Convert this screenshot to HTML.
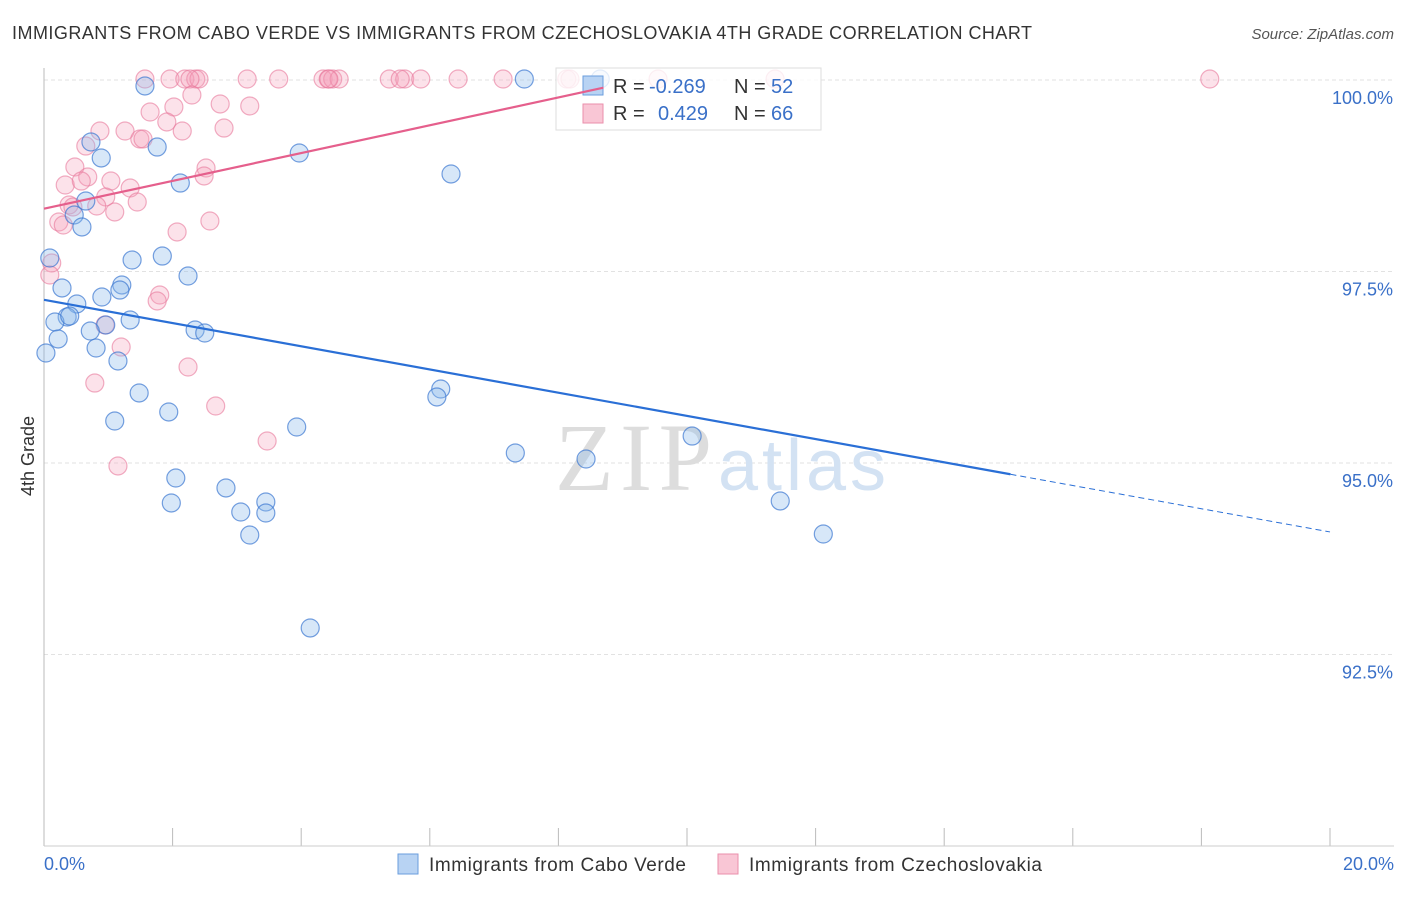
<!DOCTYPE html>
<html><head><meta charset="utf-8"><style>
body{margin:0;background:#fff;font-family:"Liberation Sans",sans-serif;}
</style></head><body>
<svg width="1406" height="892" xmlns="http://www.w3.org/2000/svg" font-family="Liberation Sans, sans-serif">
<text x="12" y="39" font-size="18" fill="#333" textLength="1020">IMMIGRANTS FROM CABO VERDE VS IMMIGRANTS FROM CZECHOSLOVAKIA 4TH GRADE CORRELATION CHART</text>
<text x="1394" y="39" font-size="15" fill="#555" font-style="italic" text-anchor="end">Source: ZipAtlas.com</text>
<g id="grid"></g>
<text x="555" y="490" font-size="96" fill="#ddd" font-family="Liberation Serif, serif" textLength="157">ZIP</text>
<text x="718" y="490" font-size="72" fill="#d3e2f3" textLength="168">atlas</text>
<line x1="44" y1="68" x2="44" y2="846" stroke="#bbb"/>
<line x1="44" y1="846" x2="1394" y2="846" stroke="#ccc"/>
<text transform="translate(34,456) rotate(-90)" font-size="18" fill="#333" text-anchor="middle">4th Grade</text>
<text x="44" y="870" font-size="18" fill="#3a70c8">0.0%</text>
<text x="1394" y="870" font-size="18" fill="#3a70c8" text-anchor="end">20.0%</text>
<g id="pts"></g>
<g>
<rect x="556" y="68" width="265" height="62" fill="#fff" fill-opacity="0.8" stroke="#ddd"/>
<rect x="583" y="76" width="20" height="19" fill="#b8d3f3" stroke="#6a9ede"/>
<rect x="583" y="104" width="20" height="19" fill="#f9c6d5" stroke="#ea8fab"/>
<text x="613" y="93" font-size="20" fill="#333">R = <tspan fill="#3a70c8" x="649">-0.269</tspan><tspan x="734">N = </tspan><tspan fill="#3a70c8" x="771">52</tspan></text>
<text x="613" y="120" font-size="20" fill="#333">R = <tspan fill="#3a70c8" x="658">0.429</tspan><tspan x="734">N = </tspan><tspan fill="#3a70c8" x="771">66</tspan></text>
</g>
<g id="lines"></g>
<g>
<rect x="398" y="854" width="20" height="20" fill="#b8d3f3" stroke="#6a9ede"/>
<text x="429" y="871" font-size="19" fill="#333" textLength="257">Immigrants from Cabo Verde</text>
<rect x="718" y="854" width="20" height="20" fill="#f9c6d5" stroke="#ea8fab"/>
<text x="749" y="871" font-size="19" fill="#333" textLength="293">Immigrants from Czechoslovakia</text>
</g>
</svg>
<script>
const yTicks=[100,97.5,95,92.5];
const yTickLabels=["100.0%","97.5%","95.0%","92.5%"];
const xTicks=[0,2,4,6,8,10,12,14,16,18,20];
const bluePx=[[145,86],[91,142],[157,147],[101,158],[299,153],[451,174],[180,183],[86,201],[74,215],[82,227],[50,258],[132,260],[162,256],[188,276],[62,288],[122,285],[120,290],[102,297],[77,304],[67,317],[55,322],[70,316],[130,320],[106,325],[90,331],[195,330],[205,333],[58,339],[96,348],[46,353],[118,361],[139,393],[441,389],[437,397],[169,412],[115,421],[297,427],[692,436],[515,453],[586,459],[176,478],[226,488],[171,503],[266,502],[241,512],[266,513],[250,535],[780,501],[823,534],[310,628],[524,79],[600,79]];
const pinkPx=[[145,79],[170,79],[185,79],[196,79],[199,79],[247,79],[279,79],[323,79],[328,79],[333,79],[339,79],[389,79],[405,79],[421,79],[458,79],[503,79],[567,79],[658,79],[775,79],[1210,79],[329,79],[190,79],[400,79],[570,79],[192,95],[220,104],[250,106],[150,112],[174,107],[167,122],[100,131],[224,128],[125,131],[140,139],[182,131],[86,146],[75,167],[206,168],[204,176],[111,181],[88,177],[65,185],[81,181],[130,188],[106,197],[69,205],[137,202],[97,206],[115,212],[59,222],[63,225],[210,221],[177,232],[52,263],[50,275],[105,325],[160,295],[157,301],[121,347],[188,367],[95,383],[216,406],[267,441],[118,466],[143,139],[73,207]];
const blueX=bluePx.map(p=>+((p[0]-44)/64.3).toFixed(2));
const blueY=bluePx.map(p=>+(100-(p[1]-80)/76.6).toFixed(3));
const pinkX=pinkPx.map(p=>+((p[0]-44)/64.3).toFixed(2));
const pinkY=pinkPx.map(p=>+(100-(p[1]-80)/76.6).toFixed(3));
const blueTrend=[97.13,94.10];
const pinkTrend=[98.32,0.1815];
const X=v=>44+v*64.3, Y=v=>80+(100-v)*76.6;
const NS="http://www.w3.org/2000/svg";
function mk(t,a,p){const e=document.createElementNS(NS,t);for(const k in a)e.setAttribute(k,a[k]);p.appendChild(e);return e;}
const grid=document.getElementById('grid');
yTicks.forEach((v,i)=>{
 const l=mk('line',{x1:44,x2:1394,y1:Y(v),y2:Y(v),stroke:'#e2e2e2','stroke-dasharray':'4,3'},grid);
 
 
 const t=mk('text',{x:1393,y:Y(v)+24,'font-size':18,fill:'#3a70c8','text-anchor':'end'},grid);
 t.textContent=yTickLabels[i];
 
 
});
xTicks.forEach(v=>{
 const l=mk('line',{x1:X(v),x2:X(v),y1:828,y2:846,stroke:'#bbb'},grid);
 
 
});
const pts=document.getElementById('pts');
pinkX.forEach((x,i)=>{
 const c=mk('circle',{cx:X(x),cy:Y(pinkY[i]),r:9,fill:'rgba(244,160,185,0.3)',stroke:'rgba(232,120,155,0.6)','stroke-width':1.2},pts);
 
 
});
blueX.forEach((x,i)=>{
 const c=mk('circle',{cx:X(x),cy:Y(blueY[i]),r:9,fill:'rgba(140,185,235,0.35)',stroke:'rgba(60,120,210,0.7)','stroke-width':1.2},pts);
 
 
});
const ln=document.getElementById('lines');
const bAt=x=>blueTrend[0]+(blueTrend[1]-blueTrend[0])*x/20;
let l1=mk('line',{x1:X(0),y1:Y(bAt(0)),x2:X(15.03),y2:Y(bAt(15.03)),stroke:'#2a6fd6','stroke-width':2.2},ln);


let l2=mk('line',{x1:X(15.03),y1:Y(bAt(15.03)),x2:X(20),y2:Y(bAt(20)),stroke:'#2a6fd6','stroke-width':1,'stroke-dasharray':'6,4'},ln);


const pAt=x=>pinkTrend[0]+pinkTrend[1]*x;
let l3=mk('line',{x1:X(0),y1:Y(pAt(0)),x2:X(8.7),y2:Y(pAt(8.7)),stroke:'#e55f8c','stroke-width':2.2},ln);


</script>
</body></html>
